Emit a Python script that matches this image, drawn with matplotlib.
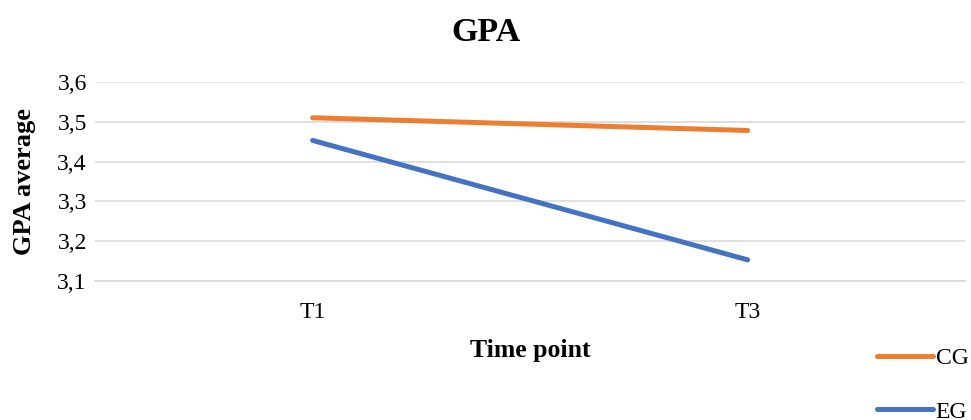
import matplotlib.pyplot as plt

plt.rcParams['font.family'] = ['Liberation Serif', 'DejaVu Serif']

time_points = ["T1", "T3"]
cg_values = [3.51, 3.478]
eg_values = [3.453, 3.153]
y_ticks = [3.1, 3.2, 3.3, 3.4, 3.5, 3.6]

ORANGE = "#ED7D31"
BLUE = "#4472C4"
GRID = "#D9D9D9"

fig = plt.figure(figsize=(9.71, 4.2), dpi=100)
ax = fig.add_axes([0.098, 0.331, 0.896, 0.474])

x = list(range(len(time_points)))
ax.plot(x, cg_values, color=ORANGE, lw=3.6, solid_capstyle="round", label="CG", zorder=3)
ax.plot(x, eg_values, color=BLUE, lw=3.6, solid_capstyle="round", label="EG", zorder=3)

ax.set_xlim(-0.5, len(time_points) - 0.5)
ax.set_ylim(3.1, 3.6)
ax.set_xticks(x, labels=time_points)
ax.set_yticks(y_ticks, labels=[f"{v:.1f}".replace(".", ",") for v in y_ticks])
ax.tick_params(length=0, labelsize=17)
ax.tick_params(axis="y", pad=6)
ax.tick_params(axis="x", pad=15)

ax.yaxis.grid(True, color=GRID, lw=1.2)
ax.set_axisbelow(True)
for side in ["top", "right", "left"]:
    ax.spines[side].set_visible(False)
ax.spines["bottom"].set_color(GRID)
ax.spines["bottom"].set_linewidth(1.2)

ax.set_xlabel("Time point", fontsize=18.5, fontweight="bold", labelpad=12)
ax.set_ylabel("GPA average", fontsize=19, fontweight="bold", labelpad=15)
fig.text(0.5, 0.922, "GPA", ha="center", va="center", fontsize=24.5, fontweight="bold")

fig.legend(loc="center left", bbox_to_anchor=(0.903, 0.083), frameon=False,
           fontsize=17, handlelength=2.37, handletextpad=0.12, labelspacing=1.35,
           borderpad=0, borderaxespad=0)

fig.savefig("out.png", dpi=100)
